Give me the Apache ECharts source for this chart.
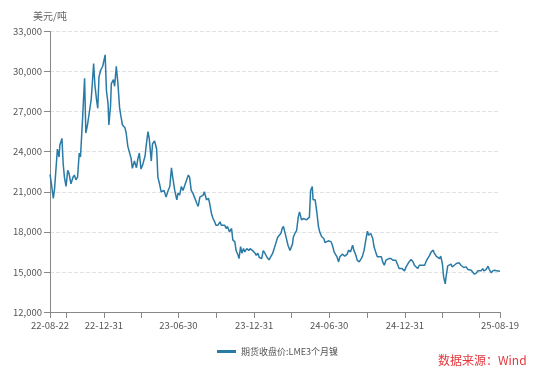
<!DOCTYPE html>
<html>
<head>
<meta charset="utf-8">
<script src="https://cdn.jsdelivr.net/npm/echarts@6/dist/echarts.min.js"></script>
<style>
html,body{margin:0;padding:0;background:#fff;}
#chart{width:550px;height:381px;}
</style>
</head>
<body>
<div id="chart"></div>
<script>
// Dates (trading days sampled) and LME 3-month nickel close (USD/t)
var dates = [
'2022-08-22','2022-08-25','2022-08-30','2022-09-02','2022-09-06','2022-09-09','2022-09-13','2022-09-15','2022-09-20','2022-09-23',
'2022-09-26','2022-09-30','2022-10-04','2022-10-07','2022-10-12','2022-10-17','2022-10-20','2022-10-24','2022-10-28','2022-11-01',
'2022-11-04','2022-11-09','2022-11-14','2022-11-17','2022-11-21','2022-11-25','2022-11-30','2022-12-02','2022-12-06','2022-12-09',
'2022-12-13','2022-12-16','2022-12-19','2022-12-23','2022-12-28','2023-01-03','2023-01-06','2023-01-10','2023-01-12','2023-01-16',
'2023-01-18','2023-01-23','2023-01-26','2023-01-30','2023-02-03','2023-02-07','2023-02-10','2023-02-14','2023-02-20','2023-02-23',
'2023-02-27','2023-03-03','2023-03-07','2023-03-10','2023-03-15','2023-03-20','2023-03-23','2023-03-27','2023-03-31','2023-04-04',
'2023-04-10','2023-04-12','2023-04-17','2023-04-20','2023-04-25','2023-04-28','2023-05-03','2023-05-08','2023-05-11','2023-05-15',
'2023-05-19','2023-05-23','2023-05-26','2023-05-31','2023-06-05','2023-06-09','2023-06-13','2023-06-16','2023-06-21','2023-06-26',
'2023-06-29','2023-07-03','2023-07-07','2023-07-11','2023-07-14','2023-07-24','2023-07-27','2023-07-31','2023-08-04','2023-08-14',
'2023-08-17','2023-08-21','2023-08-29','2023-09-01','2023-09-06','2023-09-11','2023-09-14','2023-09-18','2023-09-22','2023-09-26',
'2023-09-29','2023-10-04','2023-10-09','2023-10-12','2023-10-20','2023-10-24','2023-10-27','2023-11-01','2023-11-06','2023-11-09',
'2023-11-14','2023-11-17','2023-11-22','2023-11-24','2023-11-28','2023-12-01','2023-12-05','2023-12-08','2023-12-13','2023-12-18',
'2023-12-21','2023-12-27','2024-01-02','2024-01-05','2024-01-09','2024-01-12','2024-01-18','2024-01-22','2024-01-26','2024-01-31',
'2024-02-05','2024-02-09','2024-02-14','2024-02-16','2024-02-21','2024-02-26','2024-03-01','2024-03-05','2024-03-08','2024-03-11',
'2024-03-15','2024-03-19','2024-03-22','2024-03-27','2024-04-02','2024-04-04','2024-04-08','2024-04-12','2024-04-16','2024-04-19',
'2024-04-24','2024-04-29','2024-05-02','2024-05-06','2024-05-13','2024-05-16','2024-05-20','2024-05-22','2024-05-27','2024-05-31',
'2024-06-04','2024-06-07','2024-06-12','2024-06-17','2024-06-20','2024-06-24','2024-06-28','2024-07-05','2024-07-09','2024-07-12',
'2024-07-19','2024-07-23','2024-07-26','2024-08-01','2024-08-07','2024-08-13','2024-08-16','2024-08-21','2024-08-26','2024-08-29',
'2024-09-03','2024-09-06','2024-09-11','2024-09-16','2024-09-19','2024-09-23','2024-09-27','2024-10-01','2024-10-04','2024-10-09',
'2024-10-14','2024-10-17','2024-10-21','2024-10-25','2024-10-29','2024-11-04','2024-11-07','2024-11-11','2024-11-15','2024-11-19',
'2024-11-22','2024-11-27','2024-12-02','2024-12-05','2024-12-09','2024-12-13','2024-12-17','2024-12-20','2024-12-24','2024-12-30',
'2025-01-03','2025-01-07','2025-01-10','2025-01-15','2025-01-20','2025-01-23','2025-01-27','2025-01-31','2025-02-04','2025-02-07',
'2025-02-12','2025-02-17','2025-02-20','2025-02-24','2025-02-28','2025-03-05','2025-03-10','2025-03-12','2025-03-17','2025-03-20',
'2025-03-25','2025-03-28','2025-04-01','2025-04-04','2025-04-08','2025-04-10','2025-04-14','2025-04-17','2025-04-22','2025-04-25',
'2025-04-30','2025-05-05','2025-05-08','2025-05-12','2025-05-16','2025-05-20','2025-05-23','2025-05-29','2025-06-02','2025-06-06',
'2025-06-10','2025-06-13','2025-06-18','2025-06-23','2025-06-26','2025-06-30','2025-07-04','2025-07-08','2025-07-11','2025-07-16',
'2025-07-21','2025-07-24','2025-07-29','2025-08-01','2025-08-06','2025-08-11','2025-08-14','2025-08-19'
];
var prices = [
22300,21700,20500,21200,21300,24200,23600,24500,25000,23100,
22100,21400,22600,22400,21600,22100,22250,21900,22100,23900,
23600,26400,29500,25400,26000,25900,27900,28750,30600,29000,
27900,27250,29600,30100,30400,31250,28600,27600,26000,27400,
29100,29400,28900,30400,29100,27300,26700,26000,25800,25400,
24400,24300,23500,22750,23300,22800,23400,23900,22700,23000,
23700,24300,25500,25000,23300,24600,24800,24200,22100,21600,
21000,20900,21100,20600,21100,21400,22800,22100,21100,20400,
20900,20750,21400,21100,21000,22250,22100,21100,20900,20100,
19900,20600,20750,21000,20400,20500,20100,19400,19000,18750,
18500,18500,18750,18500,18500,18250,18400,18000,18250,17400,
17250,16600,16250,16000,16900,16400,16750,16500,16750,16600,
16750,16600,16400,16250,16400,16100,16000,16600,16400,16100,
15900,16000,16400,16600,17100,17600,17750,17900,18250,18400,
17900,17400,17000,16600,17100,17600,17900,18100,19100,19500,
18900,19000,19000,18900,19100,21100,21400,20400,20400,19500,
18400,18000,17630,17500,17200,17250,17330,17250,16880,16500,
16130,15750,16130,16330,16180,16330,16630,16500,17000,16630,
16250,15880,15750,16000,16180,16630,17380,18050,17750,17880,
17500,16880,16500,16130,16000,16130,15750,15500,15880,15750,
16000,16000,15880,16000,15880,16000,15250,15380,15250,15080,
15380,15500,15750,15930,15750,15500,15500,15250,15500,15380,
15500,15500,15750,16000,16180,16500,16630,16430,16180,16250,
16000,16180,15630,14630,14100,14630,15450,15500,15580,15380,
15500,15630,15500,15680,15500,15430,15330,15380,15180,15250,
15130,15000,14830,14930,15080,15180,15080,15250,15080,15180,
15430,15180,14930,15080,15130,15080,15130,15050
];
var tickDates = ['2022-08-22','2022-09-30','2022-12-31','2023-03-31','2023-06-30','2023-09-30','2023-12-31',
  '2024-03-31','2024-06-30','2024-09-30','2024-12-31','2025-03-31','2025-06-30','2025-08-19'];
var labelDates = ['2022-08-22','2022-12-31','2023-06-30','2023-12-31','2024-06-30','2024-12-31','2025-08-19'];
var seriesName = '期货收盘价:LME3个月镍';
var unitName = '美元/吨';
var sourceText = '数据来源：Wind';

function ts(s) { var p = s.split('-'); return Date.UTC(+p[0], +p[1] - 1, +p[2]); }
function pad(n) { return (n < 10 ? '0' : '') + n; }
function fmtDate(v) {
  var d = new Date(v);
  return pad(d.getUTCFullYear() % 100) + '-' + pad(d.getUTCMonth() + 1) + '-' + pad(d.getUTCDate());
}
var data = dates.map(function (d, i) { return [ts(d), prices[i]]; });
var font = '"Noto Sans CJK SC", "Noto Sans", sans-serif';
var chart = echarts.init(document.getElementById('chart'), null, {renderer: 'canvas'});
chart.setOption({
  animation: false,
  textStyle: {fontFamily: font},
  grid: {left: 50, right: 50, top: 31.5, bottom: 69, containLabel: false, outerBoundsMode: 'none'},
  legend: {
    data: [seriesName], left: 212, top: 342, icon: 'rect', itemWidth: 19, itemHeight: 3,
    itemGap: 5, textStyle: {fontSize: 9, color: '#555', fontFamily: font}
  },
  xAxis: {
    type: 'value', min: ts(dates[0]), max: ts(dates[dates.length - 1]),
    axisLine: {lineStyle: {color: '#888', width: 1}},
    axisTick: {show: true, length: 6, lineStyle: {color: '#888'}, customValues: tickDates.map(ts)},
    axisLabel: {customValues: labelDates.map(ts), formatter: function (v) { return fmtDate(v); },
      fontSize: 9.5, color: '#555', margin: 9, showMinLabel: true, showMaxLabel: true, hideOverlap: false},
    splitLine: {show: false}
  },
  yAxis: {
    type: 'value', min: 12000, max: 33000, interval: 3000,
    name: unitName, nameLocation: 'end', nameGap: 10,
    nameTextStyle: {fontSize: 10, color: '#666', fontFamily: font},
    axisLine: {show: true, lineStyle: {color: '#888'}},
    axisTick: {show: true, length: 6, lineStyle: {color: '#888'}},
    axisLabel: {fontSize: 9.5, color: '#555', margin: 8,
      formatter: function (v) { return v.toLocaleString('en-US'); }},
    splitLine: {show: true, lineStyle: {type: 'dashed', color: '#e2e2e2'}}
  },
  graphic: [{
    type: 'text', left: 438, top: 354,
    style: {text: sourceText, fill: '#e5373c', fontSize: 12, fontFamily: font}
  }],
  series: [{
    name: seriesName, type: 'line', data: data, symbol: 'none', showSymbol: false,
    lineStyle: {color: '#2a7aa6', width: 1.5}, itemStyle: {color: '#2a7aa6'}
  }]
});
</script>
</body>
</html>
